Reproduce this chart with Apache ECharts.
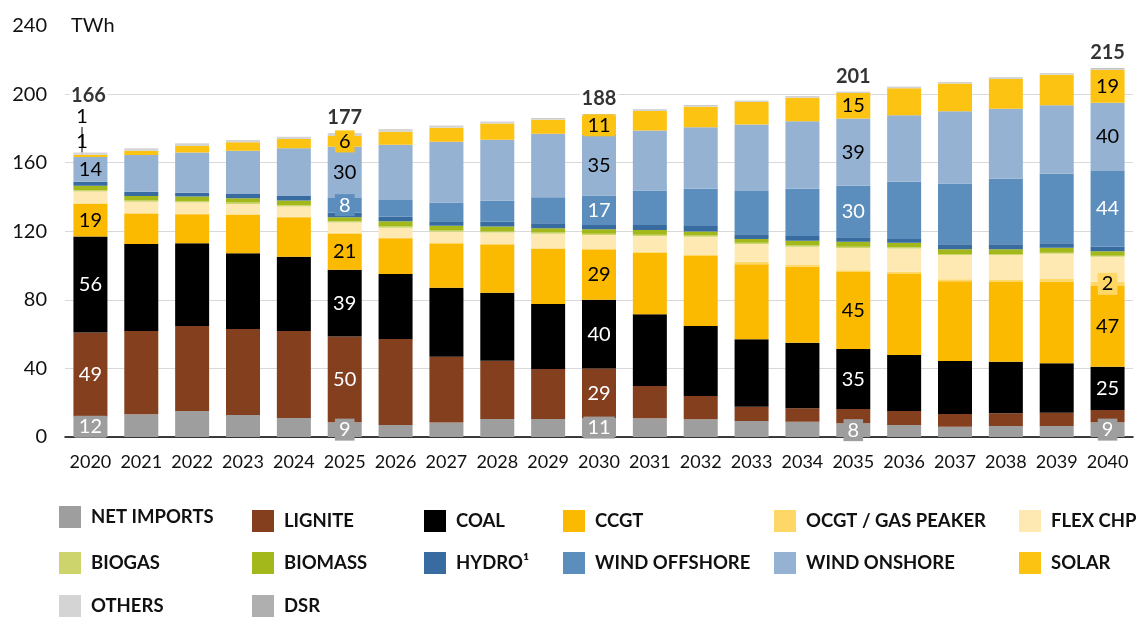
<!DOCTYPE html>
<html><head><meta charset="utf-8">
<script src="https://cdn.jsdelivr.net/npm/echarts@6/dist/echarts.min.js"></script>
<style>html,body{margin:0;padding:0;background:#fff}#c{width:1143px;height:617px}</style>
</head><body><div id="c"></div>
<script>
const years = ['2020','2021','2022','2023','2024','2025','2026','2027','2028','2029','2030','2031','2032','2033','2034','2035','2036','2037','2038','2039','2040'];
const netImports   = [12, 13.3, 15.2, 12.8, 11.1, 8.6, 7, 8.4, 10.5, 10.5, 11, 10.9, 10.3, 9.3, 8.9, 8, 7, 6, 6.4, 6.4, 8.6];
const lignite      = [49, 48.5, 49.5, 50.2, 50.7, 50, 50.2, 38.4, 34, 29.2, 29, 18.8, 13.6, 8.4, 7.8, 8.3, 8.2, 7.4, 7.4, 7.8, 7.1];
const coal         = [56, 50.8, 48.3, 44.1, 43.4, 39, 37.8, 40.3, 39.7, 37.9, 40, 41.9, 40.8, 39.3, 38.3, 35, 32.6, 30.9, 30.1, 28.8, 25.2];
const ccgt         = [19, 17.6, 16.9, 22.4, 22.9, 21, 20.9, 25.5, 27.8, 32, 29, 35.9, 40.9, 43.7, 44.3, 45, 47.3, 46.5, 46.5, 47.6, 47.2];
const ocgt         = [0.4, 0.4, 0.4, 0.4, 0.4, 0.5, 0.5, 0.5, 0.5, 0.5, 0.6, 0.6, 0.6, 1.5, 1, 1, 1.3, 1.2, 1.2, 1.5, 2.4];
const flexChp      = [6.8, 6.6, 6.4, 6, 6, 6, 5.7, 6.6, 6.7, 8.5, 8.2, 9.1, 10.6, 10.4, 10.7, 13, 13.6, 14.2, 14.5, 14.8, 14.6];
const biogas       = [0.8, 0.8, 0.8, 0.8, 0.8, 0.7, 0.7, 0.7, 0.7, 0.7, 0.7, 0.7, 0.7, 0.7, 0.7, 0.7, 0.7, 0.6, 0.6, 0.6, 0.6];
const biomass      = [2.5, 2.5, 2.7, 2.5, 2.7, 2.4, 3, 2.8, 2.9, 2.4, 2.6, 2.8, 2.3, 2.2, 2.8, 2.9, 2.6, 2.7, 2.8, 2.9, 2.7];
const hydro        = [2.4, 2.6, 2.3, 2.5, 2.6, 2.8, 2.7, 2.7, 2.8, 2.9, 2.5, 2.9, 3.2, 2.7, 2.7, 2.6, 2.2, 2.9, 2.9, 2.6, 2.6];
const windOffshore = [0, 0, 0, 0, 0, 8.4, 9.7, 10.8, 12.2, 15.2, 17.2, 20.1, 21.8, 25.3, 27.6, 30, 33.4, 35.4, 38.2, 40.6, 44.1];
const windOnshore  = [14.4, 21.4, 23.5, 25.3, 27.8, 29.9, 32.3, 35.5, 35.6, 37.1, 35.4, 35, 35.8, 38.8, 39.3, 39.2, 38.7, 42.2, 40.9, 39.9, 39.8];
const solar        = [1.3, 2.5, 3.7, 4.9, 5.4, 6.2, 7.6, 8.2, 9.5, 8.2, 11.2, 11.4, 12, 13.1, 13.8, 15, 15.8, 16.1, 17.3, 17.8, 19.2];
const others       = [1.3, 1.4, 1.6, 1.3, 1.3, 1.1, 0.9, 0.8, 0.6, 0.7, 0.7, 0.6, 0.7, 0.4, 0.5, 0.4, 0.6, 0.5, 0.5, 0.5, 0.6];
const dsr          = [0, 0, 0, 0, 0, 0.4, 0.3, 0.3, 0.3, 0.3, 0.3, 0.3, 0.3, 0.3, 0.3, 0.2, 0.3, 0.3, 0.3, 0.3, 0.3];
const yTicks = [0, 40, 80, 120, 160, 200, 240];
const unitLabel = 'TWh';
const totalYears = ['2020', '2025', '2030', '2035', '2040'];

const defs = [
  {name:'NET IMPORTS', values:netImports, color:'#9F9E9E', text:'#fff', labelAt:['2020','2025','2030','2035','2040']},
  {name:'LIGNITE', values:lignite, color:'#843F1F', text:'#fff', labelAt:['2020','2025','2030']},
  {name:'COAL', values:coal, color:'#000000', text:'#fff', labelAt:['2020','2025','2030','2035','2040']},
  {name:'CCGT', values:ccgt, color:'#FBB900', text:'#000', labelAt:['2020','2025','2030','2035','2040']},
  {name:'OCGT / GAS PEAKER', values:ocgt, color:'#FFD766', text:'#000', labelAt:['2040']},
  {name:'FLEX CHP', values:flexChp, color:'#FFE9B3', text:'#000', labelAt:[]},
  {name:'BIOGAS', values:biogas, color:'#CDD46B', text:'#000', labelAt:[]},
  {name:'BIOMASS', values:biomass, color:'#A3B81A', text:'#000', labelAt:[]},
  {name:'HYDRO\u00B9', values:hydro, color:'#386CA0', text:'#fff', labelAt:[]},
  {name:'WIND OFFSHORE', values:windOffshore, color:'#5B8DBD', text:'#fff', labelAt:['2025','2030','2035','2040']},
  {name:'WIND ONSHORE', values:windOnshore, color:'#95B2D2', text:'#000', labelAt:['2020','2025','2030','2035','2040']},
  {name:'SOLAR', values:solar, color:'#FCC313', text:'#000', labelAt:['2020','2025','2030','2035','2040']},
  {name:'OTHERS', values:others, color:'#D4D4D4', text:'#000', labelAt:['2020']},
  {name:'DSR', values:dsr, color:'#AFAFAF', text:'#000', labelAt:[]}
];

// guide-line labels for the tiny 2020 segments
const calloutPos = {'SOLAR':[8.6,-13], 'OTHERS':[8.6,-36.5]};

const FONT = 'Lato';
const series = defs.map(d => ({
  name: d.name, type: 'bar', stack: 'total', barWidth: 34,
  itemStyle: {color: d.color},
  emphasis: {disabled: true},
  label: {show:false, color:d.text, fontFamily:FONT, fontSize:20, backgroundColor:d.color,
          padding:[1,4], lineHeight:20, formatter: p => Math.round(p.value)},
  data: d.values.map((v, i) => {
    if (!d.labelAt.includes(years[i])) return v;
    if (i === 0 && calloutPos[d.name]) {
      return {value: v,
        label: {show:true, position: calloutPos[d.name], align:'center', verticalAlign:'middle',
                backgroundColor:'transparent', color:'#000'},
        labelLine: {show:true, lineStyle:{color:'#000', width:1}}};
    }
    return {value: v, label: {show: true}};
  })
}));

const totals = years.map((y, i) => defs.reduce((s, d) => s + d.values[i], 0));
series.push({
  name: 'total', type: 'scatter', symbolSize: 1, z: 5,
  itemStyle: {color: 'rgba(0,0,0,0)'},
  emphasis: {disabled: true},
  label: {show: true, position: 'top', distance: 5, fontFamily: FONT, fontWeight: 'bold', fontSize: 20,
          color: '#000', backgroundColor: '#fff', padding: [0, 2], formatter: p => Math.round(p.value)},
  data: years.map((y, i) => {
    if (!totalYears.includes(y)) return '-';
    if (i === 0) return {value: totals[i], label: {offset: [-2, -42]}};
    return totals[i];
  })
});

const legendCols = [59, 252, 424, 563, 774, 1019];
const legendRows = [510, 552, 595];
const legends = defs.map((d, k) => ({
  data: [d.name], selectedMode: false,
  left: legendCols[k % 6], top: (k === 0 ? 506 : legendRows[Math.floor(k / 6)]),
  padding: 0, itemWidth: 22, itemHeight: 22, icon: 'rect',
  textStyle: {fontFamily: FONT, fontWeight: 'bold', fontSize: 18.5, color: '#111', padding: [0, 0, 0, 5]}
}));

const chart = echarts.init(document.getElementById('c'), null, {renderer: 'canvas'});
chart.setOption({
  animation: false,
  backgroundColor: '#fff',
  grid: {left: 65, right: 10, top: 25.5, bottom: 180, containLabel: false},
  legend: legends,
  xAxis: {
    type: 'category', data: years,
    axisLine: {lineStyle: {color: '#000', width: 1.5}},
    axisTick: {show: false},
    axisLabel: {fontFamily: FONT, fontSize: 18, color: '#111', margin: 16, interval: 0, hideOverlap: false}
  },
  yAxis: {
    type: 'value', min: yTicks[0], max: yTicks[yTicks.length - 1], interval: yTicks[1] - yTicks[0],
    name: unitLabel, nameLocation: 'end', nameGap: 0,
    nameTextStyle: {fontFamily: FONT, fontSize: 20, color: '#111', align: 'left', verticalAlign: 'middle', padding: [0, 0, 0, 6]},
    axisLine: {show: false}, axisTick: {show: false},
    axisLabel: {fontFamily: FONT, fontSize: 20, color: '#111', margin: 18},
    splitLine: {lineStyle: {color: ['#D9D9D9','#D9D9D9','#D9D9D9','#D9D9D9','#D9D9D9','#D9D9D9','rgba(0,0,0,0)'], width: 1}}
  },
  series: series
});
</script></body></html>
